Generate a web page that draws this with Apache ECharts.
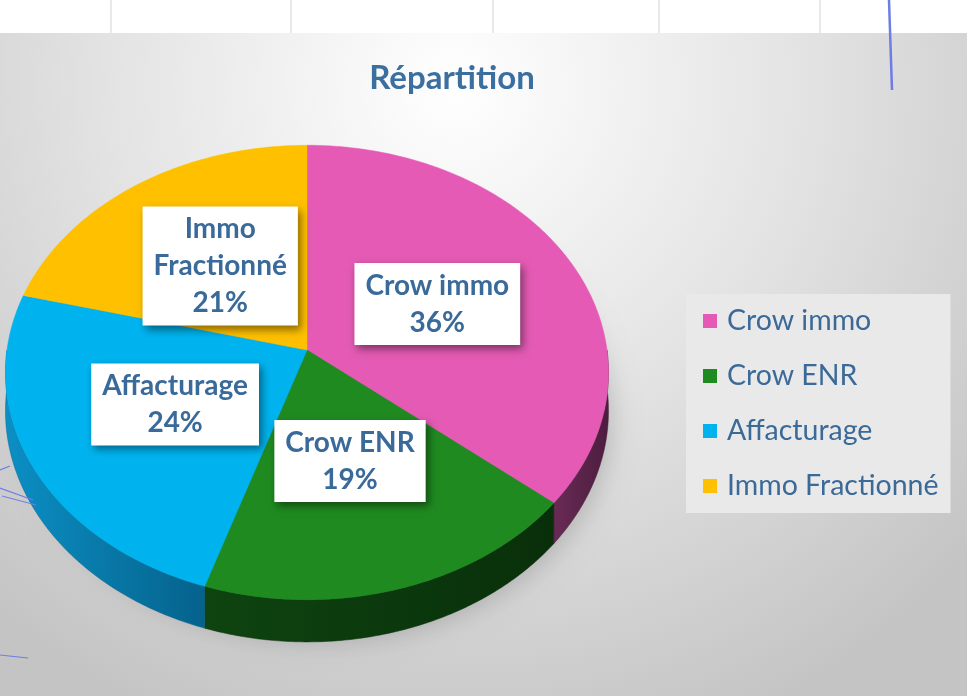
<!DOCTYPE html>
<html>
<head>
<meta charset="utf-8">
<script src="https://cdn.jsdelivr.net/npm/echarts@6/dist/echarts.min.js"></script>
<style>
html,body{margin:0;padding:0;background:#fff}
#main{width:967px;height:696px}
</style>
</head>
<body>
<div id="main"></div>
<script>
const categories = ['Crow immo', 'Crow ENR', 'Affacturage', 'Immo Fractionné'];
const values = [36, 19, 24, 21];
const labelNames = ['Crow immo', 'Crow ENR', 'Affacturage', 'Immo\nFractionné'];
const topColors = ['#e45ab4', '#1f8a20', '#00b3ef', '#ffc000'];
const sideColors = [['#6a2b56', '#4c1d3e'], ['#0e4410', '#092f0a'], ['#0b8fc4', '#05628c'], ['#c99600', '#a87c00']];

const total = values.reduce((a, b) => a + b, 0);

// tilted pie, seen with a little perspective
const apexX = 307, apexY = 350, B = 300, A = 225, P = 0.099, H = 38;

// r: 0..1 of radius, a: angle clockwise from 12 o'clock, down: wall offset
function proj(r, a, down) {
    let u = r * Math.sin(a), w = -r * Math.cos(a);
    let s = 1 / (1 - P * w);
    return [apexX + B * u * s, apexY + (A * w + (down || 0)) * s];
}
function arc(a0, a1, down) {
    let pts = [];
    let n = Math.max(2, Math.ceil((a1 - a0) / 0.01));
    for (let k = 0; k <= n; k++) {
        pts.push(proj(1, a0 + (a1 - a0) * k / n, down));
    }
    return pts;
}

function renderSlice(i) {
    return function (params, api) {
        let v = api.value(0);
        let before = 0;
        for (let k = 0; k < i; k++) before += values[k];
        let a0 = before / total * Math.PI * 2;
        let a1 = (before + v) / total * Math.PI * 2;
        let children = [];

        // front wall
        let w0 = Math.max(a0, Math.PI / 2), w1 = Math.min(a1, Math.PI * 3 / 2);
        if (w1 > w0) {
            let pts = arc(w0, w1).concat(arc(w0, w1, H).reverse());
            children.push({
                type: 'polygon',
                shape: {points: pts},
                style: {
                    fill: {type: 'linear', x: 0, y: 0, x2: 1, y2: 0,
                        colorStops: [{offset: 0, color: sideColors[i][0]}, {offset: 1, color: sideColors[i][1]}]},
                    stroke: sideColors[i][1], lineWidth: 0.5
                }
            });
        }

        // top face
        children.push({
            type: 'polygon',
            shape: {points: [[apexX, apexY]].concat(arc(a0, a1))},
            style: {fill: topColors[i], stroke: topColors[i], lineWidth: 0.5}
        });

        // label
        let m = (a0 + a1) / 2;
        let pos = proj(0.49, m);
        let pct = Math.round(v / total * 100);
        children.push({
            type: 'text',
            z2: 100,
            x: pos[0],
            y: pos[1],
            style: {
                text: labelNames[i] + '\n' + pct + '%',
                fill: '#396a9a',
                font: 'bold 28px Lato',
                align: 'center',
                verticalAlign: 'middle',
                lineHeight: 37,
                backgroundColor: '#ffffff',
                padding: [4, 11],
                shadowBlur: 8,
                shadowColor: 'rgba(0,0,0,0.45)',
                shadowOffsetX: 3,
                shadowOffsetY: 4
            }
        });
        return {type: 'group', children: children};
    };
}

let series = categories.map((name, i) => ({
    name: name,
    type: 'custom',
    coordinateSystem: 'none',
    data: [values[i]],
    itemStyle: {color: topColors[i]},
    renderItem: renderSlice(i),
    silent: true
}));

let gridX = [111, 291, 493, 659, 820];
let graphics = [
    {
        type: 'rect', z: -10, shape: {x: 0, y: 33, width: 967, height: 663},
        style: {fill: {type: 'radial', x: 0.47, y: 0.08, r: 1.05,
            colorStops: [{offset: 0, color: '#ffffff'}, {offset: 0.5, color: '#e3e3e3'}, {offset: 1, color: '#c4c4c4'}]}}
    },
    {type: 'rect', z: -10, shape: {x: 0, y: 0, width: 967, height: 33}, style: {fill: '#ffffff'}},
    {
        type: 'ellipse', z: 1,
        shape: {cx: 314, cy: 408, rx: 290, ry: 222},
        style: {fill: 'rgba(90,90,90,0.5)', shadowBlur: 28, shadowColor: 'rgba(0,0,0,0.4)', shadowOffsetX: 6, shadowOffsetY: 10}
    },
    {type: 'polyline', z: 5, shape: {points: [[889, 0], [890, 30], [891, 60], [892, 90]]},
        style: {stroke: '#6d7de6', lineWidth: 2.5}},
    {type: 'polyline', z: 5, shape: {points: [[0, 470], [10, 466]]}, style: {stroke: '#6d7de6', lineWidth: 1.2}},
    {type: 'polyline', z: 5, shape: {points: [[0, 488], [33, 500]]}, style: {stroke: '#6d7de6', lineWidth: 1.2}},
    {type: 'polyline', z: 5, shape: {points: [[2, 496], [36, 505]]}, style: {stroke: '#6d7de6', lineWidth: 1}},
    {type: 'polyline', z: 5, shape: {points: [[0, 655], [28, 658]]}, style: {stroke: '#6d7de6', lineWidth: 1.2}}
];
gridX.forEach(x => {
    graphics.push({type: 'line', z: -9, shape: {x1: x, y1: 0, x2: x, y2: 33}, style: {stroke: '#d4d4d4', lineWidth: 1}});
});

let myChart = echarts.init(document.getElementById('main'));
let option = {
    animation: false,
    title: {
        text: 'Répartition',
        left: 447,
        top: 57,
        textAlign: 'center',
        textStyle: {fontFamily: 'Lato', fontWeight: 'bold', fontSize: 33, color: '#3a6fa0'}
    },
    legend: {
        orient: 'vertical',
        left: 686,
        top: 294,
        data: categories,
        icon: 'rect',
        itemWidth: 14,
        itemHeight: 14,
        itemGap: 25,
        selectedMode: false,
        backgroundColor: '#e9e9e9',
        padding: [12, 12, 12, 17],
        textStyle: {fontFamily: 'Lato', fontSize: 28.5, color: '#3b6a98', lineHeight: 30, padding: [0, 0, 0, 5]}
    },
    graphic: graphics,
    series: series
};
myChart.setOption(option);
</script>
</body>
</html>
